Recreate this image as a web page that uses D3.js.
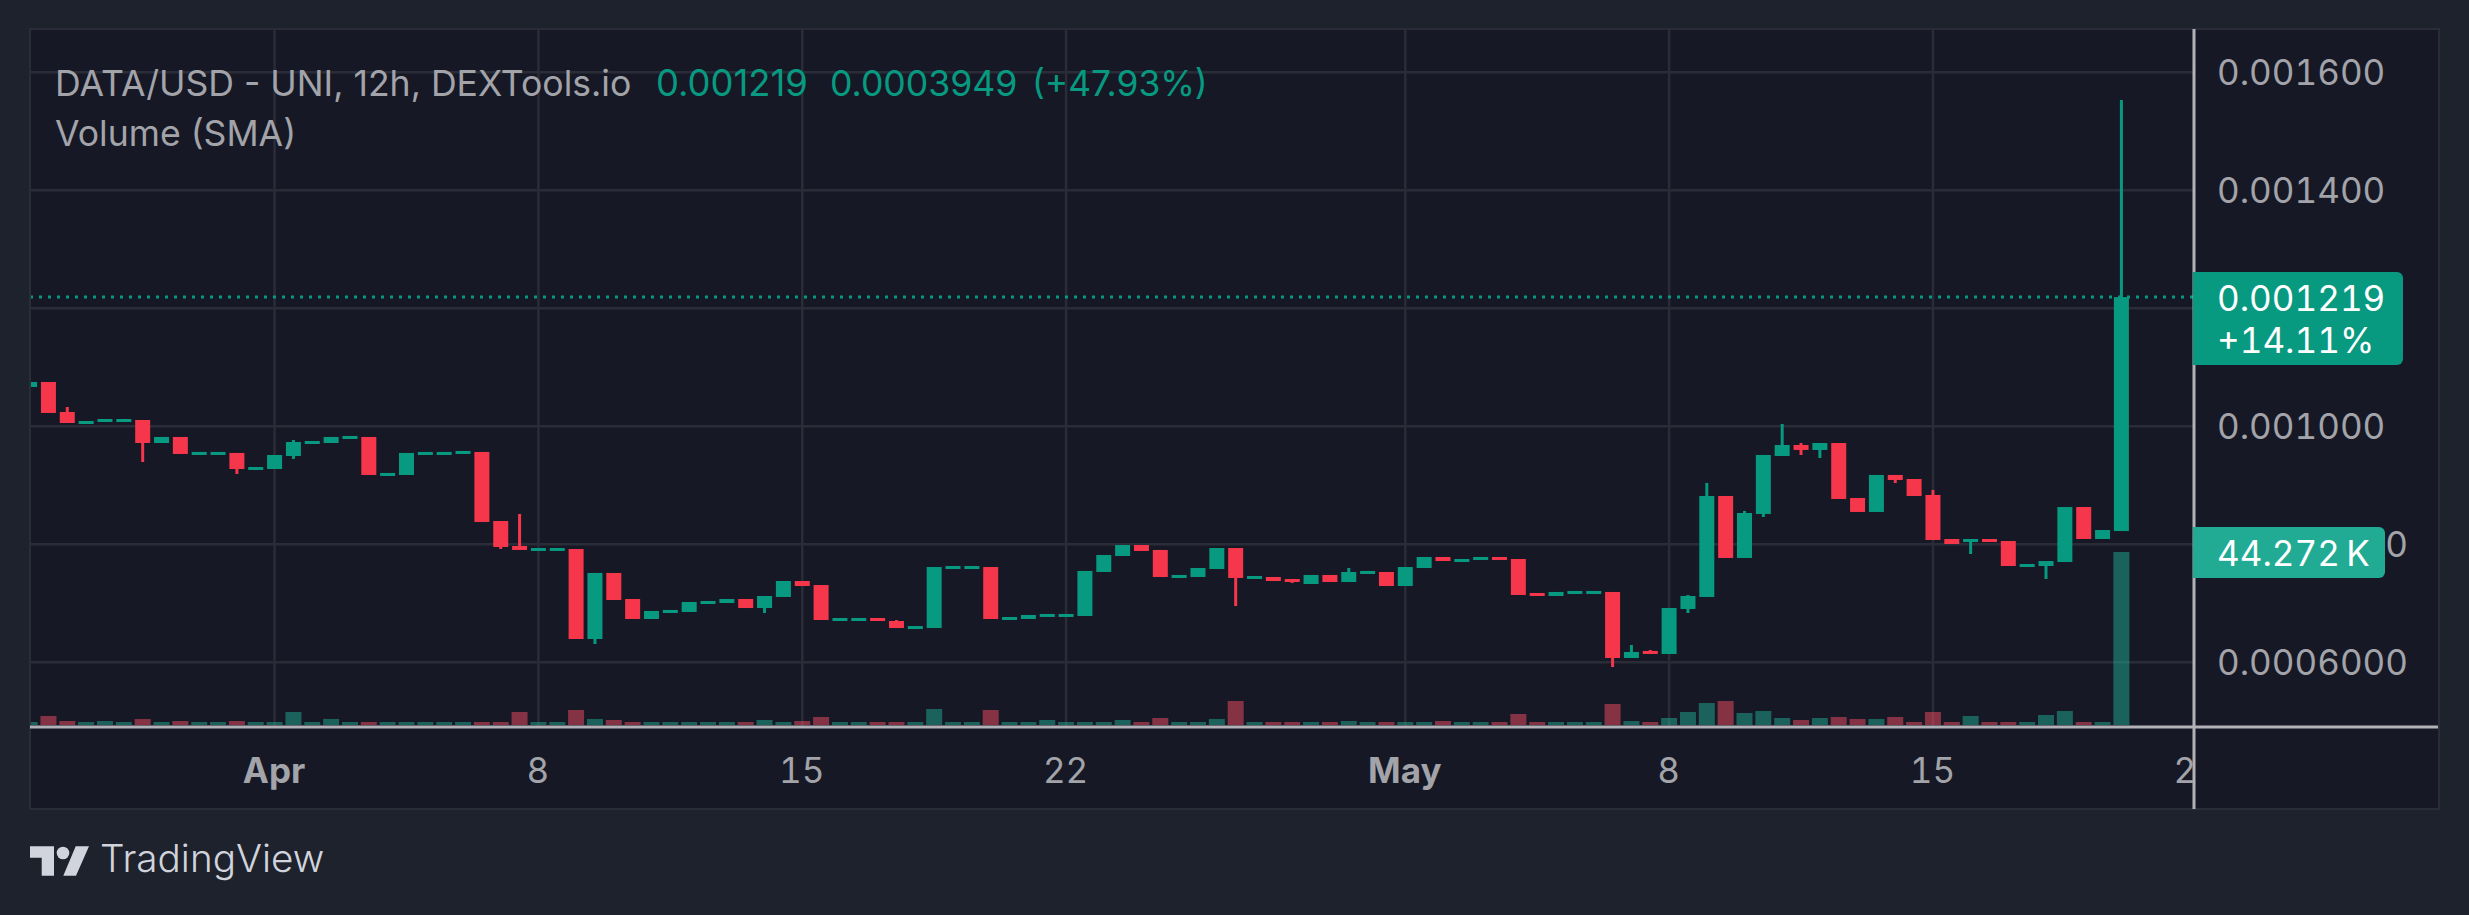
<!DOCTYPE html>
<html lang="en">
  <head>
    <meta charset="utf-8">
    <script src="https://cdn.jsdelivr.net/npm/d3@7"></script>
    <style>
      html, body { margin: 0; padding: 0; background: #1e222d; }
      svg { display: block; }
      text { font-family: Inter, "Noto Sans", sans-serif; font-variant-numeric: tabular-nums; }
      text.legend { font-variant-numeric: normal; }
    </style>
  </head>
  <body>
    <svg id="chart"></svg>
  </body>
  <script type="text/javascript">

    // 12h candles, the first one is Mar 25 12:00. prices are in 0.000001 USD
    var opens = [
      1066.6,1075.1,1024.3,1003.9,1007.3,1007.3,1010.7,971.7,981.9,951.4,951.4,954.8,926.0,927.6,
      949.7,970.0,971.7,978.5,981.9,915.8,917.5,951.4,951.4,953.1,956.5,839.5,797.1,788.7,
      788.7,792.0,639.5,751.4,707.3,673.4,683.6,685.3,698.8,700.5,707.3,692.0,710.7,737.8,
      731.0,670.0,670.0,675.1,670.0,656.4,658.1,758.1,758.1,761.5,671.7,673.4,676.8,676.8,
      678.5,753.1,780.2,798.8,790.4,742.9,744.6,758.1,793.7,741.2,744.6,741.2,732.7,748.0,
      736.1,749.7,753.1,729.3,759.8,778.5,770.0,773.4,778.5,775.1,717.5,712.4,715.8,715.8,
      719.2,607.3,619.2,614.1,690.3,710.7,881.9,776.8,851.4,949.7,968.3,959.9,971.7,878.5,
      854.8,917.5,910.7,883.6,809.0,803.9,809.0,805.6,761.5,763.2,770.0,863.2,809.0,822.5
    ];
    var closes = [
      1075.1,1022.6,1005.6,1009.0,1012.4,1012.4,971.7,981.9,953.1,956.5,956.5,927.6,931.0,951.4,
      973.4,975.1,981.9,983.6,917.5,920.9,954.8,956.5,956.5,958.2,837.8,795.4,790.4,793.7,
      793.7,639.5,751.4,705.6,673.4,687.0,688.7,702.2,703.9,707.3,692.0,712.4,737.8,729.3,
      671.7,675.1,675.1,670.0,658.1,661.5,761.5,763.2,763.2,673.4,676.8,680.2,681.9,681.9,
      754.8,781.9,798.8,788.7,744.6,748.0,759.8,793.7,742.9,746.3,737.8,736.1,748.0,736.1,
      753.1,754.8,729.3,761.5,778.5,771.7,775.1,778.5,773.4,714.1,712.4,719.2,720.9,720.9,
      607.3,617.5,614.1,692.0,712.4,881.9,776.8,853.1,951.4,968.3,959.9,971.7,876.8,854.8,
      917.5,909.0,881.9,807.3,800.5,809.0,803.9,763.2,766.6,771.7,863.2,809.0,824.2,1219.0
    ];
    // wicks that stick out of the body, candle index -> price
    var highs = { 2:1032.7, 14:976.8, 26:851.4, 46:671.7, 70:759.8, 85:629.3, 86:620.9, 88:714.1,
                  89:903.9, 91:856.5, 93:1003.9, 94:971.7, 101:892.1, 111:1553.1 };
    var lows = { 6:939.5, 11:919.2, 14:944.6, 25:792.0, 30:631.0, 39:683.6, 64:695.4, 67:734.4,
                 84:592.0, 88:683.6, 92:846.3, 94:951.4, 95:946.3, 99:903.9, 103:783.6, 107:741.2 };
    var volumes = [
      770,2300,1020,770,1020,770,1540,770,1020,770,770,1020,770,770,
      3330,770,1540,770,770,770,770,770,770,770,770,770,3330,770,
      770,3840,1540,1280,770,770,770,770,770,770,770,1280,770,1020,
      2050,770,770,770,770,770,4100,770,770,3840,770,770,1280,770,
      770,770,1280,770,1790,770,770,1540,6140,770,770,770,770,770,
      1020,770,770,770,770,1020,770,770,770,2820,770,770,770,770,
      5380,1020,770,1790,3330,5630,6140,3070,3580,1790,1280,1790,2050,1540,
      1540,2050,770,3330,770,2300,770,770,770,2560,3580,770,770,44272
    ];

    var gridTicks = [1600,1400,1200,1000,800,600];
    // 0.001200 sits fully behind the price tag, so it gets no label
    var priceTicks = [1600,1400,1000,800,600];
    var priceLabels = ['0.001600','0.001400','0.001000','0.0008000','0.0006000'];
    var dateTicks = [13,27,41,55,73,87,101,115];
    var dateLabels = ['Apr','8','15','22','May','8','15','22'];

    var width = 2469, height = 915;
    var green = '#089981', red = '#f6364a', gridColor = '#2a2c38', axisColor = '#b2b1b8', textColor = '#a3a3aa';
    var volGreen = '#22ab94', volRed = '#f44d63';
    var left = 30, top_ = 29, right = 2439, bottom = 809, axisX = 2194, axisY = 727;

    var svg = d3.select('#chart').attr('width', width).attr('height', height);

    var x = d3.scaleLinear().domain([0, 111]).range([29.6, 2121.4]);
    var y = d3.scaleLinear().domain([600, 1600]).range([662.3, 72.3]);
    var yVol = d3.scaleLinear().domain([0, 44272]).range([725, 552]);

    svg.append('rect').attr('x', left).attr('y', top_).attr('width', right - left).attr('height', bottom - top_)
      .attr('fill', '#161925').attr('stroke', '#2a2d39').attr('stroke-width', 2);

    svg.append('clipPath').attr('id', 'plot').append('rect')
      .attr('x', left + 1).attr('y', top_).attr('width', axisX - left - 1).attr('height', bottom - top_);

    var plot = svg.append('g').attr('clip-path', 'url(#plot)');

    // grid
    plot.append('g').selectAll('line').data(gridTicks).enter().append('line')
      .attr('x1', left).attr('x2', axisX)
      .attr('y1', function(d){ return y(d); })
      .attr('y2', function(d){ return y(d); })
      .attr('stroke', gridColor).attr('stroke-width', 2.5);
    plot.append('g').selectAll('line').data(dateTicks).enter().append('line')
      .attr('x1', function(d){ return x(d); })
      .attr('x2', function(d){ return x(d); })
      .attr('y1', top_).attr('y2', axisY)
      .attr('stroke', gridColor).attr('stroke-width', 2.5);

    var isUp = function(i){ return closes[i] >= opens[i]; };

    // volume
    plot.append('g').selectAll('rect').data(volumes).enter().append('rect')
      .attr('x', function(d,i){ return x(i) - 8; })
      .attr('y', function(d){ return yVol(d); })
      .attr('width', 16)
      .attr('height', function(d){ return yVol(0) - yVol(d); })
      .attr('fill', function(d,i){ return isUp(i) ? volGreen : volRed; })
      .attr('fill-opacity', 0.5);

    // last price line
    plot.append('line').attr('x1', left).attr('x2', axisX)
      .attr('y1', y(closes[111])).attr('y2', y(closes[111]))
      .attr('stroke', green).attr('stroke-width', 3).attr('stroke-dasharray', '3 6');

    // wicks
    plot.append('g').selectAll('line').data(opens).enter().append('line')
      .attr('x1', function(d,i){ return x(i); })
      .attr('x2', function(d,i){ return x(i); })
      .attr('y1', function(d,i){ return y(highs[i] || Math.max(opens[i], closes[i])); })
      .attr('y2', function(d,i){ return y(lows[i] || Math.min(opens[i], closes[i])); })
      .attr('stroke', function(d,i){ return isUp(i) ? green : red; })
      .attr('stroke-width', 3);

    // bodies
    plot.append('g').selectAll('rect').data(opens).enter().append('rect')
      .attr('x', function(d,i){ return x(i) - 7.5; })
      .attr('y', function(d,i){ return y(Math.max(opens[i], closes[i])); })
      .attr('width', 15)
      .attr('height', function(d,i){ return Math.abs(y(opens[i]) - y(closes[i])); })
      .attr('fill', function(d,i){ return isUp(i) ? green : red; });

    // axis lines
    svg.append('line').attr('x1', left).attr('x2', right - 1).attr('y1', axisY).attr('y2', axisY)
      .attr('stroke', axisColor).attr('stroke-width', 3);
    svg.append('line').attr('x1', axisX).attr('x2', axisX).attr('y1', top_).attr('y2', bottom)
      .attr('stroke', axisColor).attr('stroke-width', 3);

    // price axis
    var priceAxis = d3.axisRight(y)
      .tickValues(priceTicks)
      .tickFormat(function(d,i){ return priceLabels[i]; })
      .tickSize(0).tickPadding(0);
    svg.append('g').attr('transform', 'translate(2217,0)').call(priceAxis)
      .call(function(g){ g.select('.domain').remove(); })
      .selectAll('text').attr('fill', textColor).attr('dy', '.35em')
      .style('font-size', '35px');

    // time axis, the last label is cut off by the price axis
    svg.append('clipPath').attr('id', 'timeclip').append('rect')
      .attr('x', left).attr('y', axisY).attr('width', axisX - left - 1).attr('height', bottom - axisY);
    var timeAxis = d3.axisBottom(x)
      .tickValues(dateTicks)
      .tickFormat(function(d,i){ return dateLabels[i]; })
      .tickSize(0).tickPadding(0);
    var timeG = svg.append('g').attr('clip-path', 'url(#timeclip)')
      .append('g').attr('transform', 'translate(-1,758)').call(timeAxis)
      .call(function(g){ g.select('.domain').remove(); });
    timeG.selectAll('text').attr('fill', textColor)
      .style('font-size', '35px')
      .style('font-weight', function(d,i){ return isNaN(+dateLabels[i]) ? 700 : 400; });

    // price and volume tags
    var tag = function(x0, y0, w, h, color){
      var r = 6;
      svg.append('path')
        .attr('d', 'M' + x0 + ',' + y0 + 'h' + (w - r) + 'a' + r + ',' + r + ' 0 0 1 ' + r + ',' + r +
                   'v' + (h - 2 * r) + 'a' + r + ',' + r + ' 0 0 1 ' + (-r) + ',' + r + 'h' + (r - w) + 'z')
        .attr('fill', color);
    };
    var label = function(px, py, str, color, size, weight){
      return svg.append('text').attr('x', px).attr('y', py).text(str).attr('fill', color)
        .style('font-size', size + 'px').style('font-weight', weight || 400);
    };

    tag(2193, 272, 210, 93, green);
    label(2217, 311, '0.001219', '#fff', 35);
    label(2217, 352.7, '+14.11%', '#fff', 35);

    tag(2193, 527, 192, 51, '#22ab94');
    label(2217, 565.7, '44.272\u2009K', '#fff', 35);

    // legend
    label(55, 96, 'DATA/USD - UNI, 12h, DEXTools.io', textColor, 35.6).attr('class', 'legend');
    label(55, 146, 'Volume (SMA)', textColor, 35.6).attr('class', 'legend');
    label(656, 96, '0.001219', green, 36.4).attr('class', 'legend');
    label(830, 96, '0.0003949', green, 35.6).attr('class', 'legend');
    label(1032, 96, '(+47.93%)', green, 35.3).attr('class', 'legend');

    // logo
    svg.append('path').attr('fill', '#d1d4dc')
      .attr('d', 'M30,846.3H54V875.7H41.7V857.7H30Z M75.7,846.3H89L76,875.7H63.3Z');
    svg.append('circle').attr('cx', 63).attr('cy', 853).attr('r', 6.3).attr('fill', '#d1d4dc');
    label(100, 872, 'TradingView', '#d1d4dc', 38.7, 300);

  </script>
</html>
